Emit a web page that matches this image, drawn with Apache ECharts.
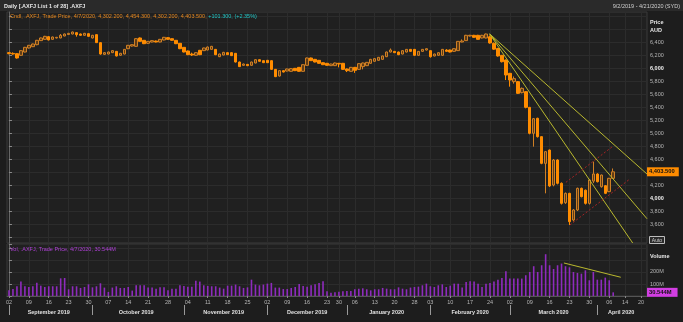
<!DOCTYPE html>
<html><head><meta charset="utf-8">
<script src="https://cdn.jsdelivr.net/npm/echarts@6/dist/echarts.min.js"></script>
<style>html,body{margin:0;padding:0;background:#1d1d1d;}#c{width:683px;height:322px;}</style>
</head><body><div id="c"></div>
<script>
// ---- DATA ----
const dates = [
"2019-09-02","2019-09-03","2019-09-04","2019-09-05","2019-09-06","2019-09-09","2019-09-10","2019-09-11","2019-09-12","2019-09-13","2019-09-16","2019-09-17","2019-09-18","2019-09-19","2019-09-20","2019-09-23","2019-09-24","2019-09-25","2019-09-26","2019-09-27","2019-09-30",
"2019-10-01","2019-10-02","2019-10-03","2019-10-04","2019-10-07","2019-10-08","2019-10-09","2019-10-10","2019-10-11","2019-10-14","2019-10-15","2019-10-16","2019-10-17","2019-10-18","2019-10-21","2019-10-22","2019-10-23","2019-10-24","2019-10-25","2019-10-28","2019-10-29","2019-10-30","2019-10-31",
"2019-11-01","2019-11-04","2019-11-05","2019-11-06","2019-11-07","2019-11-08","2019-11-11","2019-11-12","2019-11-13","2019-11-14","2019-11-15","2019-11-18","2019-11-19","2019-11-20","2019-11-21","2019-11-22","2019-11-25","2019-11-26","2019-11-27","2019-11-28","2019-11-29",
"2019-12-02","2019-12-03","2019-12-04","2019-12-05","2019-12-06","2019-12-09","2019-12-10","2019-12-11","2019-12-12","2019-12-13","2019-12-16","2019-12-17","2019-12-18","2019-12-19","2019-12-20","2019-12-23","2019-12-24","2019-12-27","2019-12-30","2019-12-31",
"2020-01-02","2020-01-03","2020-01-06","2020-01-07","2020-01-08","2020-01-09","2020-01-10","2020-01-13","2020-01-14","2020-01-15","2020-01-16","2020-01-17","2020-01-20","2020-01-21","2020-01-22","2020-01-23","2020-01-24","2020-01-28","2020-01-29","2020-01-30","2020-01-31",
"2020-02-03","2020-02-04","2020-02-05","2020-02-06","2020-02-07","2020-02-10","2020-02-11","2020-02-12","2020-02-13","2020-02-14","2020-02-17","2020-02-18","2020-02-19","2020-02-20","2020-02-21","2020-02-24","2020-02-25","2020-02-26","2020-02-27","2020-02-28",
"2020-03-02","2020-03-03","2020-03-04","2020-03-05","2020-03-06","2020-03-09","2020-03-10","2020-03-11","2020-03-12","2020-03-13","2020-03-16","2020-03-17","2020-03-18","2020-03-19","2020-03-20","2020-03-23","2020-03-24","2020-03-25","2020-03-26","2020-03-27","2020-03-30","2020-03-31",
"2020-04-01","2020-04-02","2020-04-03","2020-04-06","2020-04-07","2020-04-08","2020-04-09","2020-04-14","2020-04-15","2020-04-16","2020-04-17","2020-04-20","2020-04-21"];

const opens = [6236,6225,6221,6195,6246,6308,6328,6359,6421,6441,6482,6441,6462,6462,6492,6515,6523,6544,6523,6503,6528,
6462,6513,6390,6210,6215,6236,6256,6195,6215,6297,6338,6333,6462,6426,6380,6400,6415,6400,6431,6467,6451,6426,6380,
6318,6262,6215,6195,6272,6267,6277,6287,6287,6174,6200,6236,6236,6226,6092,6041,6056,6041,6077,6128,6113,
6118,6113,5979,5877,5959,5954,5949,5995,6010,5949,6041,6154,6133,6118,6082,6072,6036,6036,6072,6072,
5985,5949,6010,5979,6021,6036,6072,6103,6118,6133,6174,6246,6256,6246,6215,6246,6287,6287,6195,6256,6277,
6267,6185,6195,6195,6277,6277,6256,6267,6400,6421,6492,6503,6503,6462,6462,6480,6380,6300,6195,6123,
5918,5790,5790,5621,5636,5395,4995,5226,4944,4533,4738,4200,4585,4226,3928,4072,3662,3816,4149,4120,3918,4260,
4369,4174,4190,4098,4302.2];
const highs = [6245,6240,6225,6275,6325,6355,6375,6432,6468,6495,6490,6483,6478,6523,6530,6540,6560,6550,6530,6540,6535,
6510,6518,6395,6245,6252,6275,6262,6232,6292,6355,6365,6458,6470,6430,6415,6428,6422,6447,6478,6475,6456,6430,6385,
6322,6268,6236,6242,6278,6312,6330,6340,6292,6220,6248,6242,6242,6230,6098,6068,6062,6098,6134,6134,6118,
6124,6118,5985,5965,5965,5990,5996,6000,6015,6056,6160,6160,6140,6124,6088,6078,6066,6083,6078,6078,
5992,6016,6016,6072,6083,6093,6140,6150,6170,6190,6252,6300,6262,6252,6272,6292,6292,6292,6262,6292,6303,
6272,6220,6242,6292,6290,6283,6303,6415,6440,6510,6510,6510,6510,6510,6530,6500,6392,6310,6200,6130,
5925,5870,5800,5700,5645,5400,5230,5235,4950,4720,4745,4600,4595,4240,4085,4080,3830,4160,4160,4130,4290,4560,
4380,4360,4200,4310,4454.3];
const lows = [6210,6205,6145,6188,6240,6300,6322,6350,6415,6436,6425,6436,6455,6458,6488,6510,6518,6482,6495,6498,6480,
6455,6385,6205,6200,6210,6230,6178,6188,6210,6290,6330,6328,6405,6368,6370,6395,6395,6395,6425,6436,6420,6368,6290,
6240,6198,6185,6188,6198,6262,6272,6282,6198,6168,6195,6200,6184,6085,6015,6035,6030,6035,6072,6098,6076,
6076,5972,5860,5870,5932,5948,5943,5953,5943,5943,6035,6108,6087,6066,6045,6035,6030,6030,6010,5972,
5938,5943,5925,5972,5979,6030,6066,6098,6113,6128,6168,6240,6230,6198,6210,6240,6250,6188,6188,6250,6270,
6160,6180,6190,6190,6250,6240,6250,6262,6395,6415,6485,6466,6436,6456,6456,6375,6280,6175,6085,5815,
5713,5760,5600,5610,5380,4980,4790,4930,4520,4072,4170,4180,4210,3900,3910,3585,3640,3800,4010,3900,3900,4230,
4240,4160,4060,4090,4302.2];
const closes = [6222,6215,6154,6267,6318,6349,6369,6426,6462,6487,6431,6477,6472,6503,6523,6533,6554,6513,6503,6533,6487,
6503,6390,6215,6236,6246,6267,6185,6226,6287,6349,6359,6451,6410,6374,6410,6421,6400,6441,6472,6441,6426,6374,6297,
6246,6205,6200,6236,6205,6308,6323,6333,6205,6215,6241,6205,6190,6092,6021,6061,6036,6092,6128,6103,6082,
6082,5979,5867,5959,5938,5985,5990,5959,5949,6051,6154,6113,6092,6072,6051,6041,6061,6077,6061,5979,
5959,6010,5964,6067,6077,6087,6133,6144,6164,6185,6246,6277,6236,6205,6267,6287,6256,6195,6256,6287,6297,
6174,6215,6236,6287,6256,6246,6297,6410,6415,6503,6503,6472,6441,6503,6523,6385,6290,6185,6097,5892,
5815,5836,5610,5687,5395,4995,5221,4944,4533,4713,4185,4585,4226,3918,4072,3636,3816,4149,4021,3918,4277,4370,
4251,4354,4072,4303,4403.5];
// volume, millions
const volumes = [47,58,81,120,81,75,81,111,86,75,81,81,81,147,150,56,81,81,67,75,97,
72,81,106,70,34,70,81,67,67,75,45,89,89,89,70,70,61,72,72,47,61,61,89,
84,78,78,128,120,89,84,81,81,70,61,86,86,95,81,67,72,136,95,89,95,
103,109,70,70,58,58,67,75,100,84,78,89,97,109,122,39,28,31,36,39,
42,42,56,61,64,56,47,56,56,67,61,56,56,72,61,56,70,75,78,89,103,
81,75,89,97,75,86,103,103,70,117,122,120,103,75,103,109,120,136,150,206,
145,145,145,145,173,200,248,200,256,348,256,225,256,270,248,239,200,192,186,214,131,200,
136,136,153,131,30.544];

const priceLabelTicks = [3600,3800,4000,4200,4400,4600,4800,5000,5200,5400,5600,5800,6000,6200,6400];
const priceGridTicks = [3400,3600,3800,4000,4200,4400,4600,4800,5000,5200,5400,5600,5800,6000,6200,6400,6600,6800];
const volumeLabelTicks = [100,200];
const monthNames = ["January","February","March","April","May","June","July","August","September","October","November","December"];

// annotations: [index, price]
const fanLine1 = [[120.9,6525],[160.5,4369]];
const fanLine2 = [[120.9,6525],[160.5,3681]];
const fanLine3 = [[120.9,6525],[156.9,3308]];
const channelUpper = [[140.1,4241],[152.0,4800]];
const channelLower = [[141.1,3585],[156.1,4288]];
const volumeTrend = [[139.6,275],[153.9,156]];

// ---- helpers ----
const dow = d => new Date(d + "T00:00:00Z").getUTCDay();
const weekStart = dates.map((d,i) => i === 0 || dow(d) <= dow(dates[i-1]));
const monthStart = dates.map((d,i) => i === 0 || d.slice(0,7) !== dates[i-1].slice(0,7));
const monthMid = dates.map(() => false);
(function(){
  let s = 0;
  for (let i = 1; i <= dates.length; i++) {
    if (i === dates.length || monthStart[i]) { monthMid[Math.round((s + i - 1) / 2)] = true; s = i; }
  }
})();
const fmt = v => v.toLocaleString('en-US');

const FONT = 'Liberation Sans';
const candleData = opens.map((o,i) => [o, closes[i], lows[i], highs[i]]);
const lastClose = closes[closes.length-1];
const lastVol = volumes[volumes.length-1];

const chart = echarts.init(document.getElementById('c'), null, {renderer:'canvas'});
const gridLineColor = '#2c2c2c';
const option = {
  animation: false,
  backgroundColor: '#1d1d1d',
  grid: [
    {left: 7, width: 640, top: 12, height: 231, show: true, backgroundColor: '#202020', borderColor: '#3a3a3a', borderWidth: 1},
    {left: 7, width: 640, top: 244, height: 52, show: true, backgroundColor: '#202020', borderColor: '#3a3a3a', borderWidth: 1}
  ],
  xAxis: [
    {type:'category', gridIndex:0, data: dates, boundaryGap: true,
     axisLine:{show:false}, axisTick:{show:false, alignWithLabel:true}, axisLabel:{show:false},
     splitLine:{show:true, alignWithLabel:true, interval:(i)=>weekStart[i], lineStyle:{color:gridLineColor, width:1}}},
    {type:'category', gridIndex:1, data: dates, boundaryGap: true,
     axisLine:{show:true, lineStyle:{color:'#555'}},
     axisTick:{show:true, alignWithLabel:true, interval:(i)=>weekStart[i], length:2, lineStyle:{color:'#888'}},
     axisLabel:{show:true, interval:(i)=>weekStart[i], formatter:(v)=>v.slice(8), color:'#b5b5b5', fontSize:5.5, fontFamily:FONT, margin:3},
     splitLine:{show:true, alignWithLabel:true, interval:(i)=>weekStart[i], lineStyle:{color:gridLineColor, width:1}}},
    {type:'category', gridIndex:1, data: dates, boundaryGap: true, position:'bottom', offset:9,
     axisLine:{show:false},
     axisTick:{show:true, alignWithLabel:true, interval:(i)=>monthStart[i], length:10, lineStyle:{color:'#999'}},
     axisLabel:{show:true, interval:(i)=>monthMid[i], formatter:(v)=>monthNames[+v.slice(5,7)-1]+' '+v.slice(0,4), color:'#e0e0e0', fontWeight:'bold', fontSize:5.5, fontFamily:FONT, margin:4},
     splitLine:{show:false}},
    {type:'value', gridIndex:0, min:-0.5, max:160.5, show:false},
    {type:'value', gridIndex:1, min:-0.5, max:160.5, show:false}
  ],
  yAxis: [
    {type:'value', gridIndex:0, position:'right', min:3308, max:6861.5, scale:true,
     axisLine:{show:true, lineStyle:{color:'#666'}},
     axisTick:{show:true, length:3, customValues: priceGridTicks, lineStyle:{color:'#888'}},
     axisLabel:{show:true, customValues: priceLabelTicks, margin:3, color:'#b5b5b5', fontSize:5.5, fontFamily:FONT,
       formatter:(v)=> (v===6000||v===4000) ? '{b|'+fmt(v)+'}' : fmt(v),
       rich:{b:{color:'#f0f0f0', fontWeight:'bold', fontSize:5.5, fontFamily:FONT}}},
     splitLine:{show:true, lineStyle:{color:gridLineColor, width:1}}},
    {type:'value', gridIndex:1, position:'right', min:0, max:433, interval:100,
     axisLine:{show:true, lineStyle:{color:'#666'}},
     axisTick:{show:true, length:3, lineStyle:{color:'#888'}},
     axisLabel:{show:true, margin:3, color:'#b5b5b5', fontSize:5.5, fontFamily:FONT,
       formatter:(v)=> volumeLabelTicks.includes(v) ? v+'M' : ''},
     splitLine:{show:true, lineStyle:{color:gridLineColor, width:1}}}
  ],
  series: [
    {type:'candlestick', xAxisIndex:0, yAxisIndex:0, data:candleData, barWidth:3,
     itemStyle:{color:'#5e3c16', color0:'#ff8c00', borderColor:'#cf7f24', borderColor0:'#ff8c00', borderWidth:1},
     markLine:{silent:true, symbol:'none', animation:false, lineStyle:{color:'rgba(0,0,0,0)', width:1},
       label:{show:true, position:'end', distance:0, formatter:()=>lastClose.toLocaleString('en-US',{minimumFractionDigits:3}),
         backgroundColor:'#ff8c00', color:'#111', fontSize:5.8, fontWeight:'bold', fontFamily:FONT, padding:[2,4,1,2]},
       emphasis:{disabled:true},
       data:[{yAxis: lastClose}]}},
    {type:'line', xAxisIndex:3, yAxisIndex:0, data:fanLine1, symbol:'none', lineStyle:{color:'#b9b82e', width:1}},
    {type:'line', xAxisIndex:3, yAxisIndex:0, data:fanLine2, symbol:'none', lineStyle:{color:'#b9b82e', width:1}},
    {type:'line', xAxisIndex:3, yAxisIndex:0, data:fanLine3, symbol:'none', lineStyle:{color:'#b9b82e', width:1}},
    {type:'line', xAxisIndex:3, yAxisIndex:0, data:channelUpper, symbol:'none', lineStyle:{color:'#a52424', width:1, type:[2,2]}},
    {type:'line', xAxisIndex:3, yAxisIndex:0, data:channelLower, symbol:'none', lineStyle:{color:'#a52424', width:1, type:[2,2]}},
    {type:'bar', xAxisIndex:1, yAxisIndex:1, data:volumes, barWidth:1.6, itemStyle:{color:'#8e2bbd'},
     markLine:{silent:true, symbol:'none', animation:false, lineStyle:{color:'rgba(0,0,0,0)', width:1},
       label:{show:true, position:'end', distance:0, formatter:()=>lastVol+'M',
         backgroundColor:'#d23ee2', color:'#111', fontSize:5.8, fontWeight:'bold', fontFamily:FONT, padding:[2,6,1,2]},
       emphasis:{disabled:true},
       data:[{yAxis: lastVol}]}},
    {type:'line', xAxisIndex:4, yAxisIndex:1, data:volumeTrend, symbol:'none', lineStyle:{color:'#b9b82e', width:1}}
  ],
  graphic: [
    {type:'rect', shape:{x:0,y:0,width:683,height:11}, style:{fill:'#2a2a2a'}, z:-1},
    {type:'text', x:4, y:6, style:{text:'Daily [.AXFJ List 1 of 28] .AXFJ', fill:'#e6e6e6', font:'bold 5.5px '+FONT, verticalAlign:'middle'}},
    {type:'text', x:680, y:6, style:{text:'9/2/2019 - 4/21/2020 (SYD)', fill:'#cfcfcf', font:'5.5px '+FONT, align:'right', verticalAlign:'middle'}},
    {type:'text', x:10, y:16, z:10, style:{text:'{a|Cndl, .AXFJ, Trade Price, 4/7/2020, 4,302.200, 4,454.300, 4,302.200, 4,403.500, }{b|+101.300, (+2.35%)}', verticalAlign:'middle',
      rich:{a:{fill:'#e8891f', font:'5.5px '+FONT}, b:{fill:'#22c8c8', font:'5.5px '+FONT}}}},
    {type:'text', x:10, y:249, z:10, style:{text:'Vol, .AXFJ, Trade Price, 4/7/2020, 30.544M', fill:'#b040d8', font:'5.5px '+FONT, verticalAlign:'middle'}},
    {type:'text', x:650, y:22, style:{text:'Price', fill:'#e6e6e6', font:'bold 5.5px '+FONT, verticalAlign:'middle'}},
    {type:'text', x:650, y:30, style:{text:'AUD', fill:'#e6e6e6', font:'bold 5.5px '+FONT, verticalAlign:'middle'}},
    {type:'text', x:650, y:256, style:{text:'Volume', fill:'#e6e6e6', font:'bold 5.5px '+FONT, verticalAlign:'middle'}},
    {type:'rect', shape:{x:649.5,y:236.5,width:15,height:7}, style:{fill:'#2a2a2a', stroke:'#bdbdbd', lineWidth:1}, z:10},
    {type:'text', x:657, y:240.5, z:11, style:{text:'Auto', fill:'#cfcfcf', font:'5px '+FONT, align:'center', verticalAlign:'middle'}}
  ]
};
chart.setOption(option);
</script></body></html>
